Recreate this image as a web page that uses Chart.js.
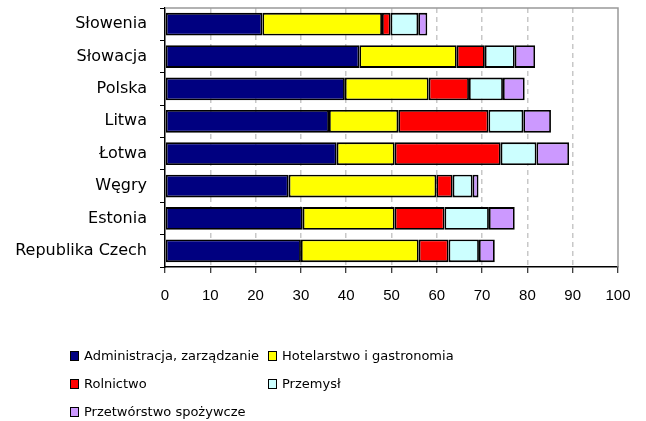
<!DOCTYPE html>
<html>
<head>
<meta charset="utf-8">
<script src="https://cdn.jsdelivr.net/npm/chart.js@4"></script>
<style>
  html, body { margin: 0; padding: 0; background: #fff; }
  #wrap { position: relative; width: 646px; height: 421px; }
  #legend { position: absolute; left: 0; top: 0; width: 646px; height: 421px; pointer-events: none;
            font-family: "DejaVu Sans", sans-serif; font-size: 13px; color: #000; }
  .item { position: absolute; white-space: nowrap; line-height: 16px; }
  .box { display: inline-block; width: 7px; height: 8px; border: 1px solid #000; margin-right: 5px; vertical-align: -1px; }
</style>
</head>
<body>
<div id="wrap">
  <canvas id="chart" width="646" height="421"></canvas>
  <div id="legend"></div>
</div>
<script>
// Data
const countries = ['Słowenia', 'Słowacja', 'Polska', 'Litwa', 'Łotwa', 'Węgry', 'Estonia', 'Republika Czech'];
const seriesNames = ['Administracja, zarządzanie', 'Hotelarstwo i gastronomia', 'Rolnictwo', 'Przemysł', 'Przetwórstwo spożywcze'];
const seriesColors = ['#000080', '#ffff00', '#ff0000', '#ccffff', '#cc99ff'];

const administracja = [21.5, 42.9, 39.7, 36.2, 37.9, 27.3, 30.4, 30.0];
const hotelarstwo   = [26.4, 21.5, 18.5, 15.3, 12.8, 32.6, 20.3, 26.0];
const rolnictwo     = [1.9, 6.2, 8.9, 19.9, 23.4, 3.6, 11.0, 6.6];
const przemysl      = [6.1, 6.6, 7.5, 7.7, 7.9, 4.4, 9.8, 6.7];
const przetworstwo  = [2.0, 4.5, 4.8, 6.1, 7.2, 1.3, 5.7, 3.5];

const xTicks = [0, 10, 20, 30, 40, 50, 60, 70, 80, 90, 100];

const seriesValues = [administracja, hotelarstwo, rolnictwo, przemysl, przetworstwo];

// gray frame on top and right of the plot area
const frame = {
    id: 'frame',
    beforeDatasetsDraw(chart) {
        const a = chart.chartArea;
        const ctx = chart.ctx;
        ctx.save();
        ctx.strokeStyle = '#999';
        ctx.lineWidth = 1.5;
        ctx.beginPath();
        ctx.moveTo(a.left, a.top);
        ctx.lineTo(a.right, a.top);
        ctx.lineTo(a.right, a.bottom);
        ctx.stroke();
        ctx.restore();
    }
};

const ctx = document.getElementById('chart').getContext('2d');
const chart = new Chart(ctx, {
    type: 'bar',
    data: {
        labels: countries,
        datasets: seriesValues.map((vals, i) => ({
            label: seriesNames[i],
            data: vals,
            backgroundColor: seriesColors[i],
            borderColor: '#000',
            borderWidth: 1.8,
            borderSkipped: false,
            barPercentage: 0.7,
            categoryPercentage: 1
        }))
    },
    options: {
        indexAxis: 'y',
        responsive: false,
        animation: false,
        layout: { padding: { top: 8, right: 28, left: 0, bottom: 0 } },
        plugins: {
            legend: { display: false },
            tooltip: { enabled: false }
        },
        scales: {
            x: {
                stacked: true,
                min: 0,
                max: 100,
                afterBuildTicks: s => { s.ticks = xTicks.map(v => ({ value: v })); },
                afterFit: s => { s.height = 421 - 267; },
                ticks: {
                    color: '#000',
                    padding: 14,
                    maxRotation: 0,
                    font: { family: '"Liberation Sans", Arial, sans-serif', size: 15 }
                },
                grid: {
                    color: c => (c.tick.value === 0 || c.tick.value === 100) ? 'rgba(0,0,0,0)' : '#c8c8c8',
                    lineWidth: 1.5,
                    tickColor: '#000',
                    tickLength: 6,
                    tickWidth: 1
                },
                border: { display: true, color: '#000', width: 1.5, dash: [5, 4] }
            },
            y: {
                stacked: true,
                afterFit: s => { s.width = 165; s.paddingTop = 0; s.paddingBottom = 0; },
                ticks: {
                    color: '#000',
                    padding: 13,
                    font: { family: '"DejaVu Sans", sans-serif', size: 16 }
                },
                grid: {
                    drawOnChartArea: false,
                    drawTicks: true,
                    tickLength: 5,
                    tickColor: '#000',
                    offset: true
                },
                border: { display: true, color: '#000', width: 1.5 }
            }
        }
    },
    plugins: [frame]
});

// Legend in two columns below the chart
const legendPos = [
    { x: 70, y: 348 }, { x: 268, y: 348 },
    { x: 70, y: 376 }, { x: 268, y: 376 },
    { x: 70, y: 404 }
];
const legendEl = document.getElementById('legend');
seriesNames.forEach((name, i) => {
    const div = document.createElement('div');
    div.className = 'item';
    div.style.left = legendPos[i].x + 'px';
    div.style.top = legendPos[i].y + 'px';
    div.innerHTML = `<span class="box" style="background:${seriesColors[i]}"></span>${name}`;
    legendEl.appendChild(div);
});
</script>
</body>
</html>
